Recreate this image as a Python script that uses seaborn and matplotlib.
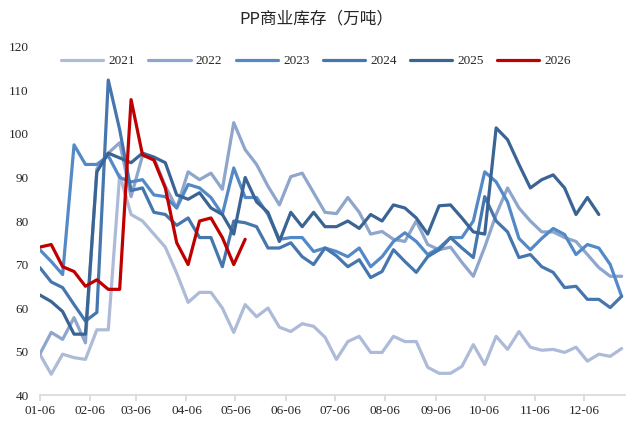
import numpy as np
import pandas as pd
import matplotlib
matplotlib.use("Agg")
import matplotlib.pyplot as plt
import seaborn as sns

# weekly commercial inventory, 10k tonnes, one list per year
inv_2021 = [49.4, 44.8, 49.4, 48.6, 48.2, 55, 55, 90.6, 81.5, 80,
            77, 74, 68, 61.3, 63.6, 63.6, 60, 54.4, 60.8, 58,
            60, 55.6, 54.6, 56.4, 55.8, 53.3, 48.2, 52.3, 53.5, 49.8,
            49.8, 53.5, 52.3, 52.3, 46.4, 45, 45, 46.6, 51.6, 47,
            53.5, 50.5, 54.6, 51, 50.3, 50.5, 49.8, 51, 47.8, 49.4,
            48.9, 50.7]
inv_2022 = [49.4, 54.4, 52.8, 57.8, 52, 92, 95.6, 98, 85.6, 95,
            94.5, 88, 83, 91.3, 89.5, 91, 87.3, 102.6, 96.4, 93,
            88, 83.7, 90.2, 91, 86.5, 82, 81.7, 85.4, 82, 77,
            77.6, 75.8, 75.3, 80, 74.6, 73.4, 74, 70.5, 67.3, 74,
            81.5, 87.6, 83, 80, 77.5, 77.5, 76.2, 75.3, 72.3, 69.3,
            67.3, 67.3]
inv_2023 = [73.4, 70.7, 67.7, 97.5, 93, 93, 95, 90, 89, 89.5,
            86, 85.6, 83, 88.4, 87.6, 85.4, 81.5, 92.2, 85.4, 85.4,
            81.5, 75.8, 76.2, 76.2, 73, 73.8, 73, 71.8, 73.8, 69.5,
            71.8, 75.3, 77.3, 75.3, 72.3, 73.8, 76.2, 76.2, 80, 91.3,
            89, 84.4, 76, 73.4, 76, 78.3, 76.9, 72.3, 74.6, 73.8,
            70, 62.7]
inv_2024 = [69.3, 66, 64.7, 60.8, 57, 59, 112.4, 101, 87, 87.6,
            82, 81.5, 79, 80.7, 76.2, 76.2, 69.5, 80, 79.6, 78.7,
            73.8, 73.8, 75, 71.8, 70, 73.8, 72, 69.5, 71.1, 67,
            68.4, 73.4, 70.7, 68.2, 71.8, 73.4, 76.2, 73.8, 71.6, 85.6,
            80, 77.5, 71.6, 72.3, 69.5, 68.2, 64.7, 65, 62, 62,
            60.1, 62.7]
inv_2025 = [63, 61.5, 59.2, 54, 54, 91.3, 95.6, 94.5, 93.4, 95.6,
            94.7, 93.4, 86, 85, 86.5, 83, 81.5, 77, 90, 84.4,
            82, 75.3, 82, 78.7, 82, 78.7, 78.7, 80, 78.3, 81.5,
            80, 83.7, 83, 80.7, 77, 83.5, 83.7, 80.7, 77.5, 77,
            101.4, 98.7, 93, 87.6, 89.5, 90.6, 87.6, 81.5, 85.4, 81.5]
inv_2026 = [74, 74.6, 69.5, 68.4, 65, 66.5, 64.3, 64.3, 107.9, 95.2,
            94, 87.6, 75, 70, 80, 80.7, 76.2, 70, 75.8]

years = ['2021', '2022', '2023', '2024', '2025', '2026']
series = [inv_2021, inv_2022, inv_2023, inv_2024, inv_2025, inv_2026]
colors = ['#adbbd8', '#8ea5cc', '#5389c6', '#4676ae', '#3a6494', '#c00000']
month_labels = ['01-06', '02-06', '03-06', '04-06', '05-06', '06-06',
                '07-06', '08-06', '09-06', '10-06', '11-06', '12-06']

# long table: week index from 01-06
frames = []
for yr, vals in zip(years, series):
    frames.append(pd.DataFrame({'week': np.arange(len(vals)), 'value': vals, 'year': yr}))
df = pd.concat(frames, ignore_index=True)

sns.set_theme(style='white')
plt.rcParams['font.family'] = ['Liberation Serif', 'Noto Sans CJK SC']

fig = plt.figure(figsize=(6.32, 4.23), dpi=100)
ax = fig.add_axes([0.063, 0.066, 0.926, 0.823])

sns.lineplot(data=df, x='week', y='value', hue='year', hue_order=years,
             palette=dict(zip(years, colors)), linewidth=2.3, ax=ax)

# month ticks: week offset of each m-06 from 01-06
tick_pos = [(pd.Timestamp(f'2021-{m}').dayofyear - 6) / 7 for m in month_labels]
ax.set_xticks(tick_pos)
ax.set_xticklabels(month_labels, fontsize=9.5)
ax.set_xlim(0, 51.3)
ax.set_ylim(40, 120)
ax.set_yticks(range(40, 121, 10))
ax.tick_params(axis='y', length=0, labelsize=9.5, pad=8)
ax.tick_params(axis='x', length=4, color='#d9d9d9', direction='out', bottom=True, pad=3)
ax.set_xlabel('')
ax.set_ylabel('')
for side in ['left', 'top', 'right']:
    ax.spines[side].set_visible(False)
ax.spines['bottom'].set_color('#d9d9d9')

handles, labels = ax.get_legend_handles_labels()
ax.legend(handles, labels, loc='center', bbox_to_anchor=(0.5, 0.855),
          bbox_transform=fig.transFigure, ncol=6, frameon=False,
          fontsize=9.5, handlelength=3.2, columnspacing=1.0, handletextpad=0.4)

fig.text(0.5, 0.955, 'PP商业库存（万吨）', ha='center', va='center',
         fontsize=12, family=['Noto Sans CJK SC'])

plt.savefig('out.png', dpi=100)
plt.close()
